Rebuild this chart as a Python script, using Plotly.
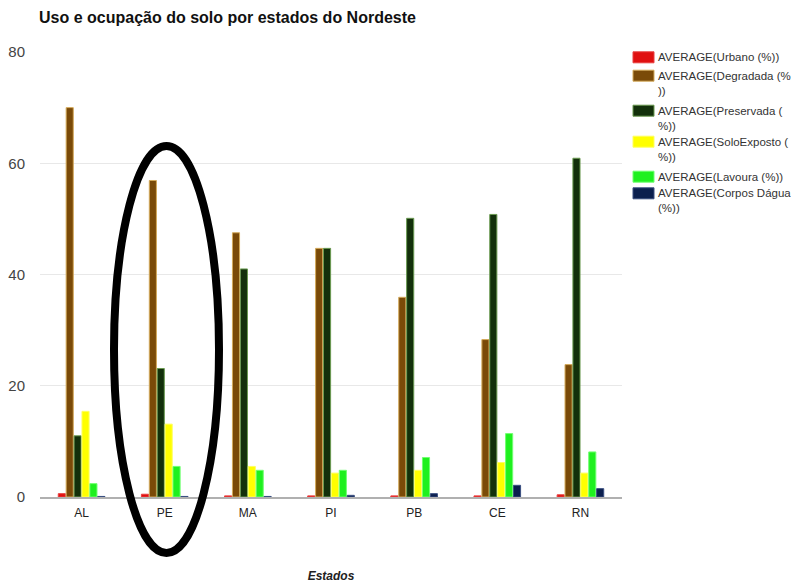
import plotly.graph_objects as go

# Land use shares (%) by state in the Nordeste region
estados = ["AL", "PE", "MA", "PI", "PB", "CE", "RN"]

urbano = [0.6, 0.5, 0.2, 0.2, 0.2, 0.2, 0.4]
degradada = [70.0, 56.9, 47.5, 44.7, 35.9, 28.3, 23.8]
preservada = [11.0, 23.1, 41.0, 44.7, 50.1, 50.8, 60.9]
solo_exposto = [15.4, 13.1, 5.5, 4.3, 4.8, 6.2, 4.3]
lavoura = [2.4, 5.5, 4.8, 4.8, 7.1, 11.4, 8.1]
corpos_dagua = [0.1, 0.1, 0.1, 0.3, 0.6, 2.1, 1.5]

series_names = [
    "AVERAGE(Urbano (%))",
    "AVERAGE(Degradada (%<br>))",
    "AVERAGE(Preservada (<br>%))",
    "AVERAGE(SoloExposto (<br>%))",
    "AVERAGE(Lavoura (%))",
    "AVERAGE(Corpos Dágua<br>(%))",
]
series_values = [urbano, degradada, preservada, solo_exposto, lavoura, corpos_dagua]
fill_colors = ["#e01010", "#7a4a08", "#13300b", "#ffff00", "#1ff01f", "#0b1f4e"]
edge_colors = ["#e84040", "#d4aa5a", "#6a9a50", "#ffff60", "#70ff70", "#3a4f80"]

W, H = 791, 583
L, R, T, B = 40, 169, 52, 86
PW, PH = W - L - R, H - T - B


def px(x):
    return (x - L) / PW


def py(y):
    return (H - B - y) / PH


fig = go.Figure()
for name, vals, fc, ec in zip(series_names, series_values, fill_colors, edge_colors):
    fig.add_trace(go.Bar(
        x=estados, y=vals, name=name,
        marker=dict(color=fc, line=dict(color=ec, width=1)),
        showlegend=False,
    ))

# Legend drawn as swatches + labels on the right
legend_rows = [57.3, 75.7, 110.7, 141.7, 176.7, 193.3]
shapes = []
annotations = []
for name, fc, ec, yc in zip(series_names, fill_colors, edge_colors, legend_rows):
    shapes.append(dict(
        type="rect", xref="paper", yref="paper",
        x0=px(633), x1=px(654), y0=py(yc - 5.5), y1=py(yc + 5.5),
        fillcolor=fc, line=dict(color=ec, width=1),
    ))
    annotations.append(dict(
        xref="paper", yref="paper", x=px(656), y=py(yc - 8),
        xanchor="left", yanchor="top", align="left", showarrow=False,
        text=name, font=dict(family="Liberation Sans, Arial", size=11.5, color="#333333"),
    ))

# Hand-drawn style ellipse highlighting PE
shapes.append(dict(
    type="circle", xref="paper", yref="paper",
    x0=px(114), x1=px(219), y0=py(553), y1=py(146),
    line=dict(color="black", width=8), fillcolor="rgba(0,0,0,0)",
))

annotations.append(dict(
    xref="paper", yref="paper", x=px(37), y=py(18), xanchor="left", yanchor="middle",
    showarrow=False, text="<b>Uso e ocupação do solo por estados do Nordeste</b>",
    font=dict(family="Liberation Sans, Arial", size=16, color="#111111"),
))

fig.update_layout(
    width=W, height=H,
    margin=dict(l=L, r=R, t=T, b=B, autoexpand=False),
    paper_bgcolor="white", plot_bgcolor="white",
    barmode="group", bargap=0.43, bargroupgap=0.1,
    font=dict(family="Liberation Sans, Arial", color="#333333"),
    shapes=shapes, annotations=annotations,
    xaxis=dict(
        automargin=False,
        showgrid=False, showline=True, linecolor="#b0b0b0", linewidth=2,
        ticks="", tickfont=dict(size=12, color="#222222"), ticklabelstandoff=4,
        title=dict(text="<b><i>Estados</i></b>", font=dict(size=12, color="#222222"), standoff=56),
    ),
    yaxis=dict(
        automargin=False,
        range=[0, 80], tickvals=[0, 20, 40, 60, 80],
        showgrid=True, gridcolor="#e8e8e8", gridwidth=1,
        zeroline=False, showline=False, ticks="",
        tickfont=dict(size=15, color="#444444"), ticklabelstandoff=14,
    ),
)

fig.write_html("out.html")
